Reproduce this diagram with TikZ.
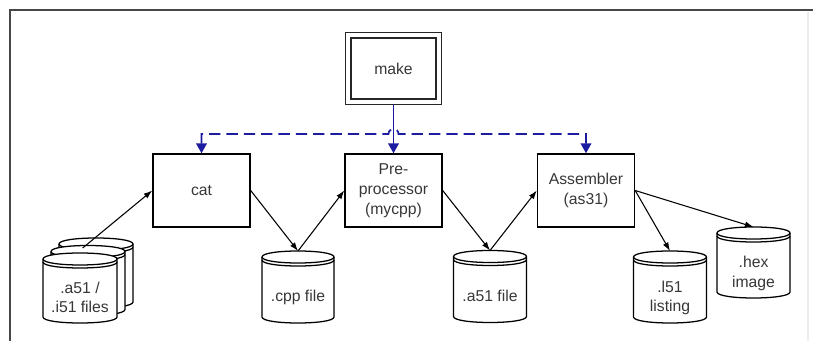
\documentclass[tikz,border=0pt]{standalone}
\usepackage{fontspec}
\setmainfont{Liberation Sans}
\usetikzlibrary{arrows.meta,calc}
\definecolor{ctlblue}{RGB}{28,28,160}
\definecolor{txt}{RGB}{55,55,55}
\newcommand{\dbcyl}[5]{% cx, top, w, h, ry  (px, y down)
  \pgfmathsetmacro\cyL{#1-#3/2}%
  \pgfmathsetmacro\cyR{#1+#3/2}%
  \pgfmathsetmacro\cyT{#2+#5}%
  \pgfmathsetmacro\cyB{#2+#4-#5}%
  \pgfmathsetmacro\cyTu{#2+#5-4/3*#5}%
  \pgfmathsetmacro\cyTd{#2+#5+4/3*#5}%
  \pgfmathsetmacro\cyBd{#2+#4-#5+4/3*#5}%
  \pgfmathsetmacro\cyS{#2+#5+3}%
  \pgfmathsetmacro\cySd{#2+#5+3+4/3*#5}%
  \draw[cylline,fill=white] (\cyL,\cyT) -- (\cyL,\cyB) .. controls (\cyL,\cyBd) and (\cyR,\cyBd) .. (\cyR,\cyB)
     -- (\cyR,\cyT) .. controls (\cyR,\cyTu) and (\cyL,\cyTu) .. cycle;
  \draw[cylline] (\cyL,\cyT) .. controls (\cyL,\cyTd) and (\cyR,\cyTd) .. (\cyR,\cyT);
  \draw[cylline] (\cyL,\cyS) .. controls (\cyL,\cySd) and (\cyR,\cySd) .. (\cyR,\cyS);
}
\newcommand{\cyltxt}[1]{\raisebox{-11.3pt}[0pt][0pt]{\begin{tabular}{@{}c@{}}#1\end{tabular}}}
\tikzset{
  cylline/.style={draw=black, line width=0.95pt},
  cyltext/.style={inner sep=0pt, outer sep=0pt, text=txt, font=\fontsize{11.8}{14.4}\selectfont},
  procbox/.style={draw=black, line width=1.05pt, fill=white, minimum width=72.75pt,
    minimum height=54.75pt, inner sep=0pt, align=center, text=txt,
    font=\fontsize{11.8}{15}\selectfont},
  makebox/.style={draw=black!85, double=white, double distance=2.7pt, line width=1.1pt,
    minimum width=67.85pt, minimum height=49.85pt, outer sep=2.45pt, inner sep=0pt,
    text=txt, font=\fontsize{11.8}{15}\selectfont},
  flow/.style={draw=black, line width=0.8pt, -{Latex[length=6.5pt,width=4.5pt]}},
  ctl/.style={draw=ctlblue, line width=1.3pt, dash pattern=on 8.5pt off 4.5pt},
  ctltip/.tip={Triangle[length=7.5pt,width=8pt]},
  frame/.style={draw=black!72, line width=1.6pt},
}
\begin{document}
\begin{tikzpicture}[x=0.75pt,y=-0.75pt]
\useasboundingbox (0,0) rectangle (813,341);
% frame
\draw[black!7, line width=0.8pt] (808,12) -- (808,341);
\draw[frame] (813,10) -- (10,10) -- (10,341);

% process boxes
\node[makebox] (make) at (393.5,68.5) {make};
\node[procbox] (cat) at (201.5,190.5) {cat};
\node[procbox] (pre) at (393.5,190.5) {Pre-\\processor\\(mycpp)};
\node[procbox] (asm) at (586,190.5) {Assembler\\(as31)};

% stacked input files
\dbcyl{96}{238}{74}{70}{6}
\dbcyl{88}{245.5}{74}{70}{6}
\dbcyl{80}{253}{74}{70}{6}
\node[cyltext, minimum width=55.5pt, minimum height=52.5pt] (files) at (80,288) {\cyltxt{.a51 /\\.i51 files}};

% other data stores
\dbcyl{298}{251}{72}{72}{6}
\node[cyltext, minimum width=54pt, minimum height=54pt] (cpp) at (298,287) {\cyltxt{.cpp file}};
\dbcyl{490}{250.5}{73}{72}{6}
\node[cyltext, minimum width=54.75pt, minimum height=54pt] (a51) at (490,286.5) {\cyltxt{.a51 file}};
\dbcyl{670}{251}{73}{72}{6}
\node[cyltext, minimum width=54.75pt, minimum height=54pt] (l51) at (670,287) {\cyltxt{.l51\\listing}};
\dbcyl{753.5}{227}{73}{71}{6}
\node[cyltext, minimum width=54.75pt, minimum height=53.25pt] (hex) at (753.5,262.5) {\cyltxt{.hex\\image}};

% data flow
\draw[flow] ([xshift=2pt,yshift=3.75pt]files.north) -- (cat.west);
\draw[flow] (cat.east) -- (cpp.north);
\draw[flow] (cpp.north) -- (pre.west);
\draw[flow] (pre.east) -- (a51.north);
\draw[flow] (a51.north) -- (asm.west);
\draw[flow] (asm.east) -- (l51.north);
\draw[flow] (asm.east) -- (hex.north);

% control from make
\coordinate (hy) at ($(make.south)+(0,29)$);
\draw[ctl, solid, -ctltip] (make.south) -- (pre.north);
\draw[ctl, ctltip-ctltip] (cat.north) |- ($(hy)+(-5,0)$)
   .. controls +(0,-6.5) and +(0,-6.5) .. ($(hy)+(5,0)$) -| (asm.north);
\end{tikzpicture}
\end{document}
